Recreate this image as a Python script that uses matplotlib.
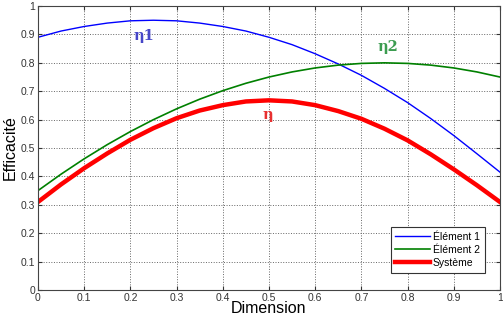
import matplotlib
matplotlib.use("Agg")
import matplotlib.pyplot as plt
import numpy as np

dimension = [0.0, 0.05, 0.1, 0.15, 0.2, 0.25, 0.3, 0.35, 0.4, 0.45, 0.5,
             0.55, 0.6, 0.65, 0.7, 0.75, 0.8, 0.85, 0.9, 0.95, 1.0]
element1 = [0.89, 0.912, 0.928, 0.940, 0.948, 0.950, 0.948, 0.940, 0.928, 0.912, 0.89,
            0.864, 0.832, 0.796, 0.756, 0.71, 0.66, 0.604, 0.544, 0.480, 0.415]
element2 = [0.35, 0.408, 0.462, 0.512, 0.558, 0.60, 0.638, 0.672, 0.702, 0.728, 0.75,
            0.768, 0.782, 0.792, 0.798, 0.80, 0.798, 0.792, 0.782, 0.768, 0.75]
systeme = [0.31, 0.372, 0.429, 0.481, 0.529, 0.57, 0.605, 0.632, 0.651, 0.664, 0.668,
           0.664, 0.651, 0.630, 0.603, 0.568, 0.527, 0.478, 0.425, 0.369, 0.31]
xticks = [0, 0.1, 0.2, 0.3, 0.4, 0.5, 0.6, 0.7, 0.8, 0.9, 1]
xticklabels = ["0", "0.1", "0.2", "0.3", "0.4", "0.5", "0.6", "0.7", "0.8", "0.9", "1"]
yticks = [0, 0.1, 0.2, 0.3, 0.4, 0.5, 0.6, 0.7, 0.8, 0.9, 1]
yticklabels = ["0", "0.1", "0.2", "0.3", "0.4", "0.5", "0.6", "0.7", "0.8", "0.9", "1"]

plt.rcParams['font.family'] = ['Liberation Sans', 'DejaVu Sans']

fig = plt.figure(figsize=(5.03, 3.18), dpi=100)
ax = fig.add_axes([0.0755, 0.088, 0.9185, 0.893])

ax.plot(dimension, element1, color='#0000ff', lw=1.0, label='Élément 1')
ax.plot(dimension, element2, color='#008000', lw=1.2, label='Élément 2')
ax.plot(dimension, systeme, color='#ff0000', lw=3.2, label='Système')

ax.text(0.23, 0.895, 'η1', color='#4646c8', fontsize=10.5, fontweight='bold',
        family='DejaVu Serif', ha='center', va='center')
ax.text(0.757, 0.855, 'η2', color='#3c9c50', fontsize=10.5, fontweight='bold',
        family='DejaVu Serif', ha='center', va='center')
ax.text(0.498, 0.615, 'η', color='#e83030', fontsize=10.5, fontweight='bold',
        family='DejaVu Serif', ha='center', va='center')

ax.set_xlim(0, 1)
ax.set_ylim(0, 1)
ax.set_xticks(xticks)
ax.set_xticklabels(xticklabels)
ax.set_yticks(yticks)
ax.set_yticklabels(yticklabels)
ax.tick_params(direction='in', top=True, right=True, labelsize=7.5, length=3,
               pad=2, colors='#333333')
ax.grid(True, linestyle=':', color='#666666', lw=0.7)
for s in ax.spines.values():
    s.set_color('#444444')
    s.set_linewidth(0.8)

ax.set_xlabel('Dimension', fontsize=11.5, labelpad=-1)
ax.set_ylabel('Efficacité', fontsize=11.5, labelpad=2)

leg = ax.legend(loc='lower right', fontsize=7.5, frameon=True, fancybox=False,
                edgecolor='#333333', framealpha=1, handlelength=3.3,
                borderpad=0.45, labelspacing=0.3, handletextpad=0.3,
                bbox_to_anchor=(0.978, 0.043))
leg.get_frame().set_linewidth(0.8)

fig.savefig('out.png', dpi=100)
